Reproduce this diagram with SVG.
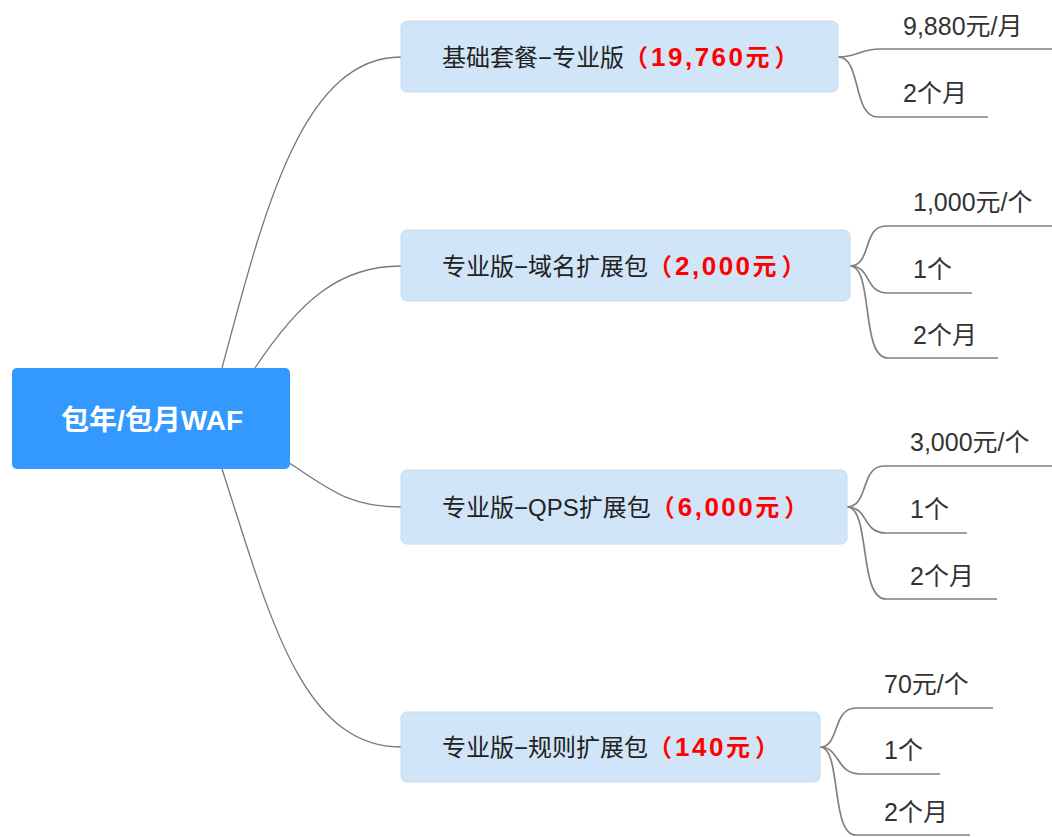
<svg xmlns="http://www.w3.org/2000/svg" width="1052" height="837" viewBox="0 0 1052 837">
<style>
text{font-family:"Liberation Sans","Noto Sans CJK SC",sans-serif;}
.root{fill:#3399ff;}
.rt{fill:#fff;font-size:28px;font-weight:bold;}
.node{fill:#d1e5f8;stroke:#c6daee;stroke-width:1;}
.nt{fill:#222;font-size:24px;}
.red{fill:#ff0000;font-weight:bold;}
.num{font-size:26px;letter-spacing:2.5px;}
.leaf{fill:#333;font-size:25px;}
.c{fill:none;stroke:#777;stroke-width:1.3;}
.u{fill:none;stroke:#808080;stroke-width:1.7;}
</style>
<rect width="1052" height="837" fill="#fff"/>
<g id="connectors">
<path class="c" d="M222,368 C262,220 300,57 401,57"/>
<path class="c" d="M255,368 C300,300 340,266 401,266"/>
<path class="c" d="M288,462 C330,490 350,507 401,507"/>
<path class="c" d="M222,469 C268,610 300,747 401,747"/>
<path class="u" d="M838,57 C858,57 860,49 880,49 H1052"/>
<path class="u" d="M838,57 C862,57 852,117 878,117 H988"/>
<path class="u" d="M850,266 C872,266 862,226 886,226 H1052"/>
<path class="u" d="M850,266 C872,266 864,293 888,293 H972"/>
<path class="u" d="M850,266 C874,266 860,358 888,358 H998"/>
<path class="u" d="M847,507 C869,507 860,466 884,466 H1052"/>
<path class="u" d="M847,507 C869,507 862,533 886,533 H967"/>
<path class="u" d="M847,507 C871,507 858,599 886,599 H997"/>
<path class="u" d="M820,747 C840,747 832,708 856,708 H993"/>
<path class="u" d="M820,747 C840,747 836,774 860,774 H940"/>
<path class="u" d="M820,747 C842,747 830,835 856,835 H970"/>
</g>
<g id="root">
<rect class="root" x="12" y="368" width="278" height="101" rx="5"/>
<text class="rt" x="152" y="430" text-anchor="middle">包年/包月WAF</text>
</g>
<g id="n1">
<rect class="node" x="401" y="21" width="437" height="71" rx="6"/>
<text class="nt" x="442" y="66">基础套餐−专业版<tspan class="red">（<tspan class="num" dx="3">19,760</tspan>元<tspan dx="5">）</tspan></tspan></text>
</g>
<g id="n2">
<rect class="node" x="401" y="230" width="449" height="71" rx="6"/>
<text class="nt" x="442" y="275">专业版−域名扩展包<tspan class="red">（<tspan class="num" dx="3">2,000</tspan>元<tspan dx="5">）</tspan></tspan></text>
</g>
<g id="n3">
<rect class="node" x="401" y="470" width="446" height="74" rx="6"/>
<text class="nt" x="442" y="516">专业版−QPS扩展包<tspan class="red">（<tspan class="num" dx="3">6,000</tspan>元<tspan dx="5">）</tspan></tspan></text>
</g>
<g id="n4">
<rect class="node" x="401" y="712" width="419" height="70" rx="6"/>
<text class="nt" x="442" y="756">专业版−规则扩展包<tspan class="red">（<tspan class="num" dx="3">140</tspan>元<tspan dx="5">）</tspan></tspan></text>
</g>
<g id="l1a"><text class="leaf" x="903" y="35">9,880元/月</text></g>
<g id="l1b"><text class="leaf" x="903" y="102">2个月</text></g>
<g id="l2a"><text class="leaf" x="913" y="211">1,000元/个</text></g>
<g id="l2b"><text class="leaf" x="913" y="278">1个</text></g>
<g id="l2c"><text class="leaf" x="913" y="344">2个月</text></g>
<g id="l3a"><text class="leaf" x="910" y="451">3,000元/个</text></g>
<g id="l3b"><text class="leaf" x="910" y="518">1个</text></g>
<g id="l3c"><text class="leaf" x="910" y="585">2个月</text></g>
<g id="l4a"><text class="leaf" x="884" y="693">70元/个</text></g>
<g id="l4b"><text class="leaf" x="884" y="759">1个</text></g>
<g id="l4c"><text class="leaf" x="884" y="821">2个月</text></g>
</svg>
